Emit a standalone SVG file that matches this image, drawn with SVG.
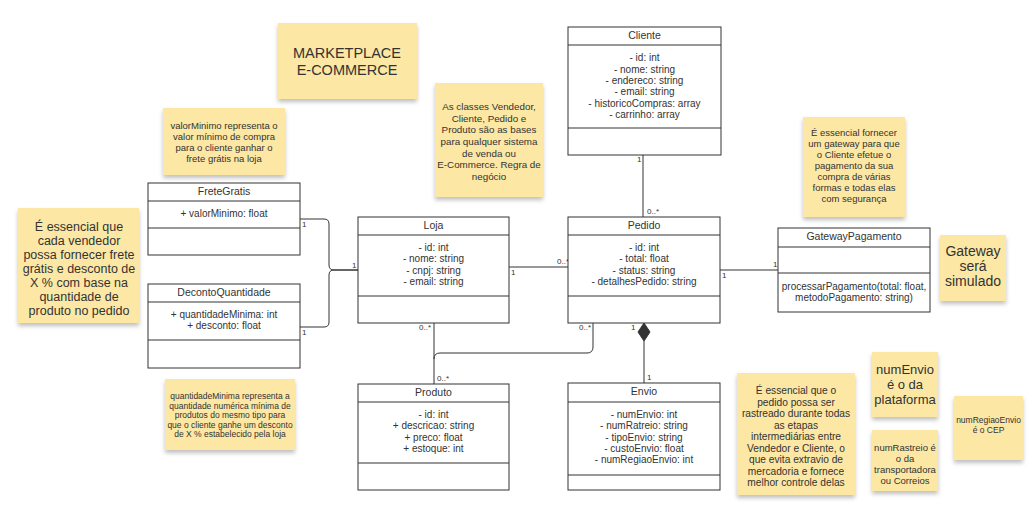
<svg xmlns="http://www.w3.org/2000/svg" width="1032" height="523" viewBox="0 0 1032 523">
<defs>
<style>
text{font-family:"Liberation Sans",Arial,sans-serif;fill:#333;}
.cls{fill:#fff;stroke:#333;stroke-width:1;}
.sep{stroke:#333;stroke-width:1;}
.t{font-size:10.5px;text-anchor:middle;}
.a{font-size:10px;text-anchor:middle;}
.m{font-size:8px;}
.note{fill:#fce7a4;filter:url(#sh);}
.edge{fill:none;stroke:#333;stroke-width:1;}
</style>
<filter id="sh" x="-20%" y="-20%" width="140%" height="150%">
<feDropShadow dx="0" dy="3" stdDeviation="2" flood-color="#000" flood-opacity="0.25"/>
</filter>
</defs>
<rect width="1032" height="523" fill="#fff"/>

<g id="note-title"><rect class="note" x="278" y="23" width="139" height="76"/>
<text x="347" y="58" style="font-size:14.5px;text-anchor:middle">MARKETPLACE</text>
<text x="347" y="75" style="font-size:14.5px;text-anchor:middle">E-COMMERCE</text></g>

<g id="note-valorMinimo"><rect class="note" x="163" y="108" width="122" height="67"/>
<text style="font-size:9.5px;text-anchor:middle"><tspan x="224" y="129">valorMinimo representa o</tspan><tspan x="224" y="140">valor mínimo de compra</tspan><tspan x="224" y="151">para o cliente ganhar o</tspan><tspan x="224" y="162">frete grátis na loja</tspan></text></g>

<g id="note-vendedor"><rect class="note" x="18" y="208" width="121" height="115"/>
<text style="font-size:12.5px;text-anchor:middle"><tspan x="79" y="231">É essencial que</tspan><tspan x="79" y="245">cada vendedor</tspan><tspan x="79" y="259">possa fornecer frete</tspan><tspan x="79" y="273">grátis e desconto de</tspan><tspan x="79" y="287">X % com base na</tspan><tspan x="79" y="301">quantidade de</tspan><tspan x="79" y="315">produto no pedido</tspan></text></g>

<g id="note-classes"><rect class="note" x="435" y="83" width="108" height="114"/>
<text style="font-size:9.8px;text-anchor:middle"><tspan x="489" y="110">As classes Vendedor,</tspan><tspan x="489" y="122">Cliente, Pedido e</tspan><tspan x="489" y="133">Produto são as bases</tspan><tspan x="489" y="145">para qualquer sistema</tspan><tspan x="489" y="157">de venda ou</tspan><tspan x="489" y="168">E-Commerce. Regra de</tspan><tspan x="489" y="180">negócio</tspan></text></g>

<g id="note-gateway"><rect class="note" x="803" y="117" width="102" height="100"/>
<text style="font-size:9.5px;text-anchor:middle"><tspan x="854" y="136">É essencial fornecer</tspan><tspan x="854" y="147">um gateway para que</tspan><tspan x="854" y="158">o Cliente efetue o</tspan><tspan x="854" y="169">pagamento da sua</tspan><tspan x="854" y="180">compra de várias</tspan><tspan x="854" y="191">formas e todas elas</tspan><tspan x="854" y="202">com segurança</tspan></text></g>

<g id="note-simulado"><rect class="note" x="940" y="235" width="66" height="66"/>
<text style="font-size:14px;text-anchor:middle"><tspan x="973" y="256">Gateway</tspan><tspan x="973" y="271">será</tspan><tspan x="973" y="286">simulado</tspan></text></g>

<g id="note-quantidadeMinima"><rect class="note" x="165" y="379" width="130" height="71"/>
<text style="font-size:8.5px;text-anchor:middle"><tspan x="230" y="399">quantidadeMinima representa a</tspan><tspan x="230" y="408.5">quantidade numérica mínima de</tspan><tspan x="230" y="418">produtos do mesmo tipo para</tspan><tspan x="230" y="427.5">que o cliente ganhe um desconto</tspan><tspan x="230" y="437">de X % estabelecido pela loja</tspan></text></g>

<g id="note-envio"><rect class="note" x="737" y="373" width="118" height="122"/>
<text style="font-size:10.2px;text-anchor:middle"><tspan x="796" y="394">É essencial que o</tspan><tspan x="796" y="405.5">pedido possa ser</tspan><tspan x="796" y="417">rastreado durante todas</tspan><tspan x="796" y="428.5">as etapas</tspan><tspan x="796" y="440">intermediárias entre</tspan><tspan x="796" y="451.5">Vendedor e Cliente, o</tspan><tspan x="796" y="463">que evita extravio de</tspan><tspan x="796" y="474.5">mercadoria e fornece</tspan><tspan x="796" y="486">melhor controle delas</tspan></text></g>

<g id="note-numEnvio"><rect class="note" x="872" y="352" width="66" height="65"/>
<text style="font-size:13px;text-anchor:middle"><tspan x="905" y="374">numEnvio</tspan><tspan x="905" y="389">é o da</tspan><tspan x="905" y="404">plataforma</tspan></text></g>

<g id="note-numRastreio"><rect class="note" x="872" y="430" width="66" height="61"/>
<text style="font-size:9.5px;text-anchor:middle"><tspan x="905" y="451">numRastreio é</tspan><tspan x="905" y="462">o da</tspan><tspan x="905" y="473">transportadora</tspan><tspan x="905" y="484">ou Correios</tspan></text></g>

<g id="note-numRegiao"><rect class="note" x="954" y="396" width="69" height="64"/>
<text style="font-size:8.5px;text-anchor:middle"><tspan x="988.5" y="423">numRegiaoEnvio</tspan><tspan x="988.5" y="433">é o CEP</tspan></text></g>

<g id="connectors">
<path class="edge" d="M300,219 H324 Q329,219 329,224 V265 Q329,270 334,270 H358"/>
<path class="edge" d="M300,327 H324 Q329,327 329,322 V275 Q329,270 334,270 H358"/>
<path class="edge" d="M509,267 H568"/>
<path class="edge" d="M643,155 V217"/>
<path class="edge" d="M720,270 H778"/>
<path class="edge" d="M434,323 V384"/>
<path class="edge" d="M593,323 V347 Q593,353 587,353 H440 Q434,353 434,359"/>
<path class="edge" d="M644,341 V383"/>
<path d="M644,323 L650,332 L644,341 L638,332 Z" fill="#333" stroke="#333"/>
<text class="m" x="302" y="227">1</text>
<text class="m" x="302" y="335">1</text>
<text class="m" x="352" y="268">1</text>
<text class="m" x="511" y="275">1</text>
<text class="m" x="557" y="264">0..*</text>
<text class="m" x="637" y="162">1</text>
<text class="m" x="647" y="214">0..*</text>
<text class="m" x="722" y="278">1</text>
<text class="m" x="773" y="267">1</text>
<text class="m" x="419" y="330">0..*</text>
<text class="m" x="437" y="381">0..*</text>
<text class="m" x="579" y="330">0..*</text>
<text class="m" x="631" y="330">1</text>
<text class="m" x="647" y="380">1</text>
</g>

<g id="FreteGratis"><rect class="cls" x="148" y="183" width="152" height="72"/>
<line class="sep" x1="148" y1="201" x2="300" y2="201"/><line class="sep" x1="148" y1="228" x2="300" y2="228"/>
<text class="t" x="224" y="195">FreteGratis</text>
<text class="a" x="224" y="217">+ valorMinimo: float</text></g>

<g id="DecontoQuantidade"><rect class="cls" x="148" y="284" width="152" height="84"/>
<line class="sep" x1="148" y1="302" x2="300" y2="302"/><line class="sep" x1="148" y1="340" x2="300" y2="340"/>
<text class="t" x="224" y="296">DecontoQuantidade</text>
<text class="a" x="224" y="318">+ quantidadeMinima: int</text>
<text class="a" x="224" y="329">+ desconto: float</text></g>

<g id="Loja"><rect class="cls" x="358" y="217" width="151" height="106"/>
<line class="sep" x1="358" y1="235" x2="509" y2="235"/><line class="sep" x1="358" y1="296" x2="509" y2="296"/>
<text class="t" x="433.5" y="229">Loja</text>
<text class="a"><tspan x="433.5" y="251">- id: int</tspan><tspan x="433.5" y="262">- nome: string</tspan><tspan x="433.5" y="273.5">- cnpj: string</tspan><tspan x="433.5" y="285">- email: string</tspan></text></g>

<g id="Cliente"><rect class="cls" x="568" y="27" width="153" height="128"/>
<line class="sep" x1="568" y1="45" x2="721" y2="45"/><line class="sep" x1="568" y1="128" x2="721" y2="128"/>
<text class="t" x="644.5" y="39">Cliente</text>
<text class="a"><tspan x="644.5" y="61">- id: int</tspan><tspan x="644.5" y="72.5">- nome: string</tspan><tspan x="644.5" y="84">- endereco: string</tspan><tspan x="644.5" y="95">- email: string</tspan><tspan x="644.5" y="106.5">- historicoCompras: array</tspan><tspan x="644.5" y="118">- carrinho: array</tspan></text></g>

<g id="Pedido"><rect class="cls" x="568" y="217" width="152" height="106"/>
<line class="sep" x1="568" y1="235" x2="720" y2="235"/><line class="sep" x1="568" y1="296" x2="720" y2="296"/>
<text class="t" x="644" y="229">Pedido</text>
<text class="a"><tspan x="644" y="251">- id: int</tspan><tspan x="644" y="262">- total: float</tspan><tspan x="644" y="273.5">- status: string</tspan><tspan x="644" y="285">- detalhesPedido: string</tspan></text></g>

<g id="GatewayPagamento"><rect class="cls" x="778" y="228" width="152" height="84"/>
<line class="sep" x1="778" y1="247" x2="930" y2="247"/><line class="sep" x1="778" y1="273" x2="930" y2="273"/>
<text class="t" x="854" y="240">GatewayPagamento</text>
<text class="a"><tspan x="854" y="290">processarPagamento(total: float,</tspan><tspan x="854" y="301">metodoPagamento: string)</tspan></text></g>

<g id="Produto"><rect class="cls" x="358" y="384" width="151" height="106"/>
<line class="sep" x1="358" y1="402" x2="509" y2="402"/><line class="sep" x1="358" y1="463" x2="509" y2="463"/>
<text class="t" x="433.5" y="396">Produto</text>
<text class="a"><tspan x="433.5" y="418">- id: int</tspan><tspan x="433.5" y="429">+ descricao: string</tspan><tspan x="433.5" y="440.5">+ preco: float</tspan><tspan x="433.5" y="452">+ estoque: int</tspan></text></g>

<g id="Envio"><rect class="cls" x="568" y="383" width="152" height="107"/>
<line class="sep" x1="568" y1="402" x2="720" y2="402"/><line class="sep" x1="568" y1="475" x2="720" y2="475"/>
<text class="t" x="644" y="395">Envio</text>
<text class="a"><tspan x="644" y="418">- numEnvio: int</tspan><tspan x="644" y="429">- numRatreio: string</tspan><tspan x="644" y="440.5">- tipoEnvio: string</tspan><tspan x="644" y="452">- custoEnvio: float</tspan><tspan x="644" y="463">- numRegiaoEnvio: int</tspan></text></g>
</svg>
